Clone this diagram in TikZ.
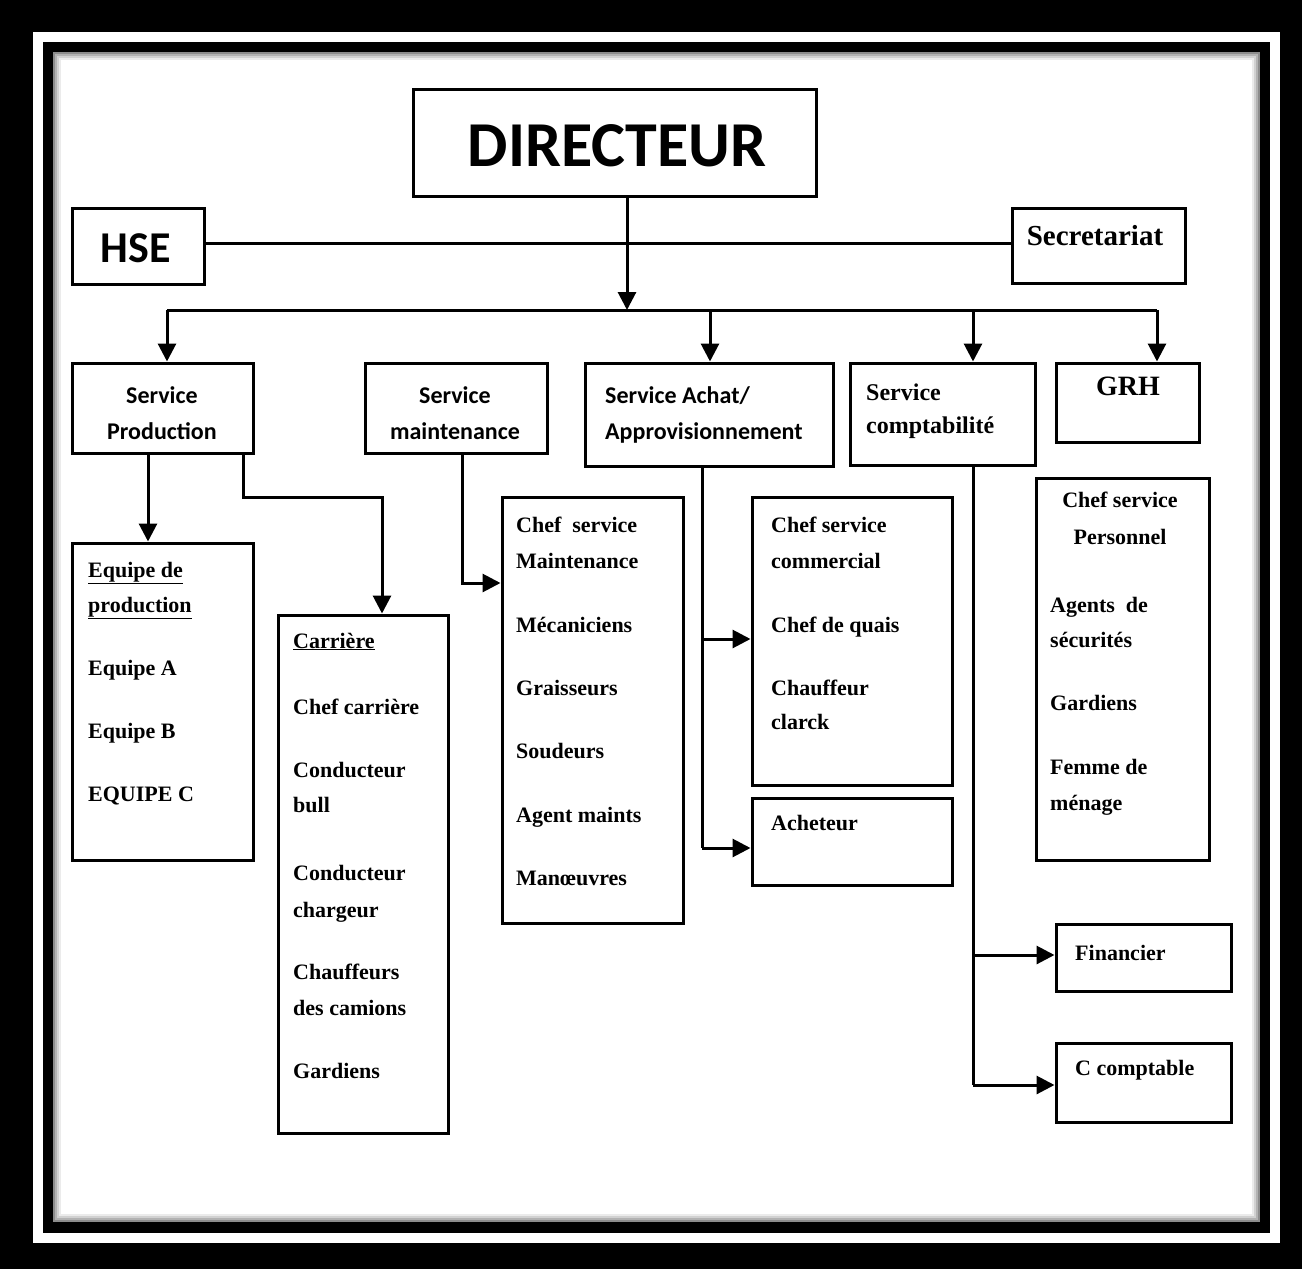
\documentclass[tikz,border=0pt]{standalone}
\usepackage{fontspec}
\setmainfont{Liberation Serif}
\newfontfamily\carl{Carlito}
\usetikzlibrary{arrows.meta}
\begin{document}
\begin{tikzpicture}[x=1pt,y=-1pt,
  box/.style={draw, line width=3pt, rectangle, inner sep=0pt},
  conn/.style={line width=3pt},
  arr/.style={line width=3pt, -{Triangle[width=18pt,length=18pt]}},
  lb/.style={inner sep=0pt, anchor=base west, font=\bfseries\fontsize{22}{26}\selectfont},
  lbc/.style={lb, anchor=base},
  sv/.style={inner sep=0pt, anchor=base, font=\carl\bfseries\fontsize{24}{28}\selectfont},
  svl/.style={sv, anchor=base west},
]
% frame
\fill[black] (0,0) rectangle (1302,1269);
\fill[white] (33,32) rectangle (1280,1243);
\fill[black] (43,42) rectangle (1270,1233);
\fill[white] (53,52) rectangle (1260,1222);
\foreach \i/\o in {1/0.45,3/0.3,5/0.18,7/0.08}
  \draw[black, opacity=\o, line width=2pt] (53+\i,52+\i) rectangle (1260-\i,1222-\i);

% boxes
\node[box, minimum width=403pt, minimum height=107pt] (dir) at (614.5,142.5) {};
\node[box, minimum width=132pt, minimum height=76pt] (hse) at (138,246) {};
\node[box, minimum width=173pt, minimum height=75pt] (sec) at (1098.5,245.5) {};
\node[box, minimum width=181pt, minimum height=90pt] (sp) at (162.5,408) {};
\node[box, minimum width=182pt, minimum height=90pt] (sm) at (456,408) {};
\node[box, minimum width=248pt, minimum height=103pt] (sa) at (709,414.5) {};
\node[box, minimum width=185pt, minimum height=102pt] (sc) at (942.5,414) {};
\node[box, minimum width=143pt, minimum height=79pt] (grh) at (1127.5,402.5) {};
\node[box, minimum width=181pt, minimum height=317pt] (eq) at (162.5,701.5) {};
\node[box, minimum width=170pt, minimum height=518pt] (car) at (363,874) {};
\node[box, minimum width=181pt, minimum height=426pt] (mnt) at (592.5,710) {};
\node[box, minimum width=200pt, minimum height=288pt] (com) at (852,641) {};
\node[box, minimum width=200pt, minimum height=87pt] (ach) at (852,841.5) {};
\node[box, minimum width=173pt, minimum height=382pt] (per) at (1122.5,669) {};
\node[box, minimum width=175pt, minimum height=67pt] (fin) at (1143.5,957.5) {};
\node[box, minimum width=175pt, minimum height=79pt] (cc) at (1143.5,1082.5) {};

% coordinates for connectors
\coordinate (dj) at (627,310);
\coordinate (busL) at (167,310);
\coordinate (busR) at (1157,310);
\coordinate (xa) at (710,310);
\coordinate (xc) at (973,310);
\coordinate (p1) at (148,0);
\coordinate (p2) at (243,497);
\coordinate (p3) at (382,497);
\coordinate (m1) at (462,583);
\coordinate (a1) at (702,639);
\coordinate (a2) at (702,848);
\coordinate (c1) at (973,955);
\coordinate (c2) at (973,1085);

% connectors
\draw[conn] (hse.east |- 0,243) -- (sec.west |- 0,243);
\draw[arr] (dj |- dir.south) -- (dj);
\draw[conn] (busL) -- (busR);
\draw[arr] (busL) -- (busL |- sp.north);
\draw[arr] (xa) -- (xa |- sa.north);
\draw[arr] (xc) -- (xc |- sc.north);
\draw[arr] (busR) -- (busR |- grh.north);
\draw[arr] (p1 |- sp.south) -- (p1 |- eq.north);
\draw[arr] (p2 |- sp.south) -- (p2) -- (p3) -- (p3 |- car.north);
\draw[arr] (m1 |- sm.south) -- (m1) -- (m1 -| mnt.west);
\draw[conn] (a1 |- sa.south) -- (a2);
\draw[arr] (a1) -- (a1 -| com.west);
\draw[arr] (a2) -- (a2 -| ach.west);
\draw[conn] (c1 |- sc.south) -- (c2);
\draw[arr] (c1) -- (c1 -| fin.west);
\draw[arr] (c2) -- (c2 -| cc.west);

% top labels
\node[inner sep=0pt, anchor=base, font=\carl\bfseries\fontsize{64}{70}\selectfont] (tdir) at (617,166) {DIRECTEUR};
\node[inner sep=0pt, anchor=base, font=\carl\bfseries\fontsize{44}{50}\selectfont] (thse) at (136,262) {HSE};
\node[inner sep=0pt, anchor=base, font=\bfseries\fontsize{29}{34}\selectfont] (tsec) at (1095,245) {Secretariat};
\node[sv] (tsp1) at (162,403) {Service};
\node[sv] (tsp2) at (162,439) {Production};
\node[sv] (tsm1) at (455,403) {Service};
\node[sv] (tsm2) at (455,439) {maintenance};
\node[svl] (tsa1) at (605,403) {Service Achat/};
\node[svl] (tsa2) at (605,439) {Approvisionnement};
\node[lb, font=\bfseries\fontsize{24}{28}\selectfont] (tsc1) at (866,400) {Service};
\node[lb, font=\bfseries\fontsize{24}{28}\selectfont] (tsc2) at (866,433) {comptabilité};
\node[inner sep=0pt, anchor=base, font=\bfseries\fontsize{28}{32}\selectfont] (tgrh) at (1128,395) {GRH};

% Equipe de production
\node[lb] (e1) at (88,577) {\underline{Equipe de}};
\node[lb] (e2) at (88,612) {\underline{production}};
\node[lb] (e3) at (88,675) {Equipe A};
\node[lb] (e4) at (88,738) {Equipe B};
\node[lb] (e5) at (88,801) {EQUIPE C};

% Carriere
\node[lb] (k1) at (293,648) {\underline{Carrière}};
\node[lb] (k2) at (293,714) {Chef carrière};
\node[lb] (k3) at (293,777) {Conducteur};
\node[lb] (k4) at (293,812) {bull};
\node[lb] (k5) at (293,880) {Conducteur};
\node[lb] (k6) at (293,917) {chargeur};
\node[lb] (k7) at (293,979) {Chauffeurs};
\node[lb] (k8) at (293,1015) {des camions};
\node[lb] (k9) at (293,1078) {Gardiens};

% Maintenance
\node[lb] (n1) at (516,532) {Chef\ \ service};
\node[lb] (n2) at (516,568) {Maintenance};
\node[lb] (n3) at (516,632) {Mécaniciens};
\node[lb] (n4) at (516,695) {Graisseurs};
\node[lb] (n5) at (516,758) {Soudeurs};
\node[lb] (n6) at (516,822) {Agent maints};
\node[lb] (n7) at (516,885) {Manœuvres};

% Commercial
\node[lb] (o1) at (771,532) {Chef service};
\node[lb] (o2) at (771,568) {commercial};
\node[lb] (o3) at (771,632) {Chef de quais};
\node[lb] (o4) at (771,695) {Chauffeur};
\node[lb] (o5) at (771,729) {clarck};
\node[lb] (o6) at (771,830) {Acheteur};

% Personnel
\node[lbc] (r1) at (1120,507) {Chef service};
\node[lbc] (r2) at (1120,544) {Personnel};
\node[lb] (r3) at (1050,612) {Agents\ \ de};
\node[lb] (r4) at (1050,647) {sécurités};
\node[lb] (r5) at (1050,710) {Gardiens};
\node[lb] (r6) at (1050,774) {Femme de};
\node[lb] (r7) at (1050,810) {ménage};

% Compta children
\node[lb] (f1) at (1075,960) {Financier};
\node[lb] (f2) at (1075,1075) {C comptable};
\end{tikzpicture}
\end{document}
